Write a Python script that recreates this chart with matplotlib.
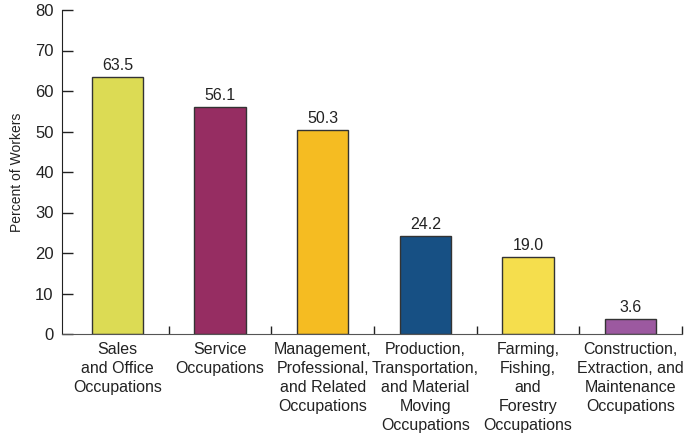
import matplotlib
matplotlib.use("Agg")
import matplotlib.pyplot as plt
import numpy as np

plt.rcParams['font.family'] = ['Liberation Sans', 'DejaVu Sans']

# data
categories = ["Sales\nand Office\nOccupations",
              "Service\nOccupations",
              "Management,\nProfessional,\nand Related\nOccupations",
              "Production,\nTransportation,\nand Material\nMoving\nOccupations",
              "Farming,\nFishing,\nand\nForestry\nOccupations",
              "Construction,\nExtraction, and\nMaintenance\nOccupations"]
percents = [63.5, 56.1, 50.3, 24.2, 19.0, 3.6]
colors = ["#dcdb54", "#962d62", "#f5bc22", "#175084", "#f5de4d", "#9c59a0"]
yticks = [0, 10, 20, 30, 40, 50, 60, 70, 80]

fig = plt.figure(figsize=(6.88, 4.34), dpi=100)
ax = fig.add_axes([62 / 688, 100 / 434, 620 / 688, 324 / 434])

x = np.arange(len(categories))
ax.bar(x, percents, width=0.5, color=colors, edgecolor="#333333", linewidth=1)
for xi, v in zip(x, percents):
    ax.text(xi, v + 1, f"{v:.1f}", ha="center", va="bottom", fontsize=11.5,
            color="#222222")

ax.set_xlim(-0.54, len(categories) - 0.52)
ax.set_ylim(0, 80)
ax.set_yticks(yticks)
ax.tick_params(axis="y", direction="in", length=8, labelsize=12, width=1,
               colors="#222222", pad=6)

# category ticks sit between the bars, the labels under the bar centres
ax.set_xticks(x + 0.5)
ax.set_xticklabels([])
ax.tick_params(axis="x", direction="in", length=6, width=1, colors="#222222")
for xi, lab in zip(x, categories):
    ax.text(xi, -2.0, lab, ha="center", va="top", fontsize=11.5,
            color="#222222", linespacing=1.34)

ax.spines["top"].set_visible(False)
ax.spines["right"].set_visible(False)
ax.spines["left"].set_color("#222222")
ax.spines["bottom"].set_color("#555555")
ax.set_ylabel("Percent of Workers", fontsize=10, color="#222222", labelpad=8)

fig.savefig("out.png", dpi=100)
